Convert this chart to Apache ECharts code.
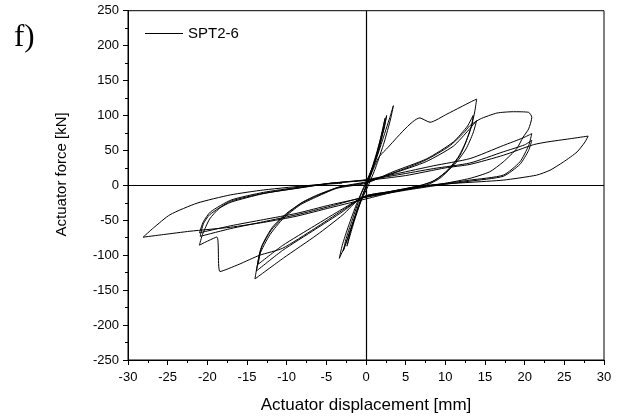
<!DOCTYPE html>
<html>
<head>
<meta charset="utf-8">
<script src="https://cdn.jsdelivr.net/npm/echarts@6/dist/echarts.min.js"></script>
<style>
html,body{margin:0;padding:0;background:#fff;}
#c{width:626px;height:419px;}
</style>
</head>
<body>
<div id="c"></div>
<script>
// Tick labels
var xTicks = [-30,-25,-20,-15,-10,-5,0,5,10,15,20,25,30];
var yTicks = [-250,-200,-150,-100,-50,0,50,100,150,200,250];
var seriesName = 'SPT2-6';

// Cycles at about ±3.5 mm  [displacement mm, force kN]
var loopsSmall = [
  [0,0],[1,28],[2,62],[3,97],[3.45,114],[3.1,95],[2.3,62],[1.2,25],[0.3,0],[-0.6,-22],[-1.6,-52],[-2.6,-85],[-3.36,-104.5],
  [-3.0,-86],[-2.2,-58],[-1.2,-27],[-0.3,-3],[0.6,20],[1.6,50],[2.6,100],
  [2.3,82],[1.5,50],[0.6,15],[-0.3,-12],[-1.3,-42],[-2.3,-75],[-2.86,-94],
  [-2.5,-76],[-1.6,-45],[-0.6,-12],[0.3,10],[1.3,42],[2.4,96],
  [2.1,78],[1.3,45],[0.4,12],[-0.5,-17],[-1.5,-52],[-2.4,-87],
  [-2.0,-68],[-1.0,-30],[0,-2],[0.8,20],[1.6,40]
];
// Cycles at about ±14 mm
var loops14 = [
  [2.4,50],[6.8,96.5],[8.07,90.3],[10.2,102],[11.85,111.6],[13.3,120],[13.95,123.4],
  [13.7,105],[13.3,85],[12.6,62],[11.85,43],[10.6,24],[9.3,10],[7.65,0.5],[5,-6],[2,-12],[-0.75,-19],
  [-2.9,-42],[-6.2,-71],[-10.4,-104],[-14,-134],
  [-13.4,-99],[-12.1,-70.5],[-10.4,-47],[-8.3,-28],[-6.6,-18.4],[-3.7,-4.3],[0,3],
  [3.4,19.4],[7.65,38],[11,62],[12.8,85],[13.5,100],
  [13.3,85],[12.5,60],[11.6,40],[10.3,22],[8.8,8],[7,0],[3,-9],[0,-16],[-1,-21],
  [-3,-38],[-6.4,-63],[-10.5,-93],[-13.8,-122.5],
  [-13.3,-92],[-12,-65],[-10.3,-44],[-8.2,-26],[-6.4,-16],[-3.5,-3],[0,4],
  [3.4,17],[7.6,34],[11,56],[13,80],[13.95,92.7],
  [13.5,75],[12.6,52],[11.4,33],[10,18],[8.3,5],[6.5,-1],[3,-9],[0,-15],
  [-3,-34],[-6.5,-58],[-10.5,-86],[-13.6,-113],
  [-13.1,-86],[-11.8,-60],[-10,-40],[-8,-24],[-6.2,-14],[-3.3,-2],[0,5]
];
// Cycles at about ±21 mm
var loops21 = [
  [3.5,18],[7.5,36],[10.5,56],[12.3,75],[13.1,85.5],[14.4,95],[16.5,103.5],[18.6,105.4],[20.5,104.5],[20.9,97.4],
  [20.5,80.8],[19.8,69],[19,52.5],[17.3,33.6],[15.6,19.4],[13.1,10],[10,3],[7,-2],[3,-9],[0,-15],
  [-3,-36],[-6.5,-62],[-10.5,-90],[-13.4,-100],[-16,-113],[-18.4,-123.4],[-18.8,-74],[-21,-85.6],
  [-20.6,-70],[-19.7,-48],[-18.5,-33],[-17,-24],[-13,-12],[-8.7,-4],[-4.5,3],[0,8],
  [4,17],[8.5,28],[13.1,38.3],[17.3,57],[19.8,68],[20.9,74],
  [20.5,57],[19.4,33.6],[17.3,14.6],[13.1,7.5],[9,1],[5,-6],[0,-16],
  [-4.5,-30],[-8.7,-42],[-12.9,-52],[-17.1,-62],[-20.9,-73],
  [-20.5,-55],[-19.7,-42],[-17.1,-23],[-12.9,-11.3],[-8.7,-4.3],[-4.5,2.8],[0,7.6],
  [4,15],[8.5,24],[13.1,32],[17.3,48],[20,58],[20.9,64.5],
  [20.5,50],[19.4,30],[17.3,13],[13.1,6],[9,0],[5,-7],[0,-17],
  [-4.5,-28],[-8.7,-40],[-12.9,-49],[-17.1,-58],[-21,-68],
  [-20.5,-52],[-19.6,-38],[-17,-21],[-12.9,-10],[-8.7,-3],[-4.5,3],[0,7]
];
// Cycle at about ±28 mm
var loop28 = [
  [5,14],[10,25],[13.1,30],[17.3,43],[21.1,58.2],[22.8,62],[25.7,66.7],[28,70.5],
  [27.6,62],[26.6,47.8],[24.9,33.6],[23.2,21.7],[21.5,14.6],[17.3,7.5],[13.1,4.3],[7.6,0],[4,-8],[0.5,-18],
  [-4.5,-32],[-8.7,-44],[-12.9,-53],[-17.1,-60],[-22.2,-65.7],[-25.5,-70.4],[-28.1,-74.2],
  [-26.8,-61],[-24.7,-42],[-21.3,-25.5],[-17.1,-13.7],[-12.9,-6.6],[-6.6,0.5],[-3,3]
];

var pathData = [].concat(loopsSmall, loops14, loops21, loop28);

var chart = echarts.init(document.getElementById('c'), null, {renderer:'canvas'});
var fontFam = '"Liberation Sans", Arial, sans-serif';
chart.setOption({
  animation:false,
  backgroundColor:'#fff',
  graphic:[{
    type:'text', left:14, top:22,
    style:{text:'f)', font:'31px "Liberation Serif", "Times New Roman", serif', fill:'#000'}
  }],
  legend:{
    show:true, left:140, top:21, orient:'horizontal',
    itemWidth:38, itemHeight:1, itemGap:4,
    icon:'rect',
    textStyle:{fontFamily:fontFam, fontSize:15, color:'#000', padding:[0,0,0,0]},
    data:[seriesName]
  },
  grid:{left:128, right:22, top:10.7, bottom:56, show:true, borderColor:'#000', borderWidth:1, backgroundColor:'transparent'},
  xAxis:{
    type:'value', min:-30, max:30, interval:5,
    name:'Actuator displacement [mm]', nameLocation:'middle', nameGap:37,
    nameTextStyle:{fontFamily:fontFam, fontSize:17, color:'#000'},
    axisLine:{show:true, onZero:false, lineStyle:{color:'#000', width:1}},
    axisTick:{show:true, inside:false, length:5, lineStyle:{color:'#000'}},
    minorTick:{show:true, splitNumber:2, length:3, lineStyle:{color:'#000'}},
    splitLine:{show:false},
    axisLabel:{fontFamily:fontFam, fontSize:13, color:'#000', margin:11,
      formatter:function(v){return xTicks.indexOf(v)>=0 ? String(v) : '';}}
  },
  yAxis:{
    type:'value', min:-250, max:250, interval:50,
    name:'Actuator force [kN]', nameLocation:'middle', nameGap:59, nameRotate:90,
    nameTextStyle:{fontFamily:fontFam, fontSize:15, color:'#000', padding:[0,0,0,22]},
    axisLine:{show:true, onZero:false, lineStyle:{color:'#000', width:1}},
    axisTick:{show:true, inside:false, length:5, lineStyle:{color:'#000'}},
    minorTick:{show:true, splitNumber:2, length:3, lineStyle:{color:'#000'}},
    splitLine:{show:false},
    axisLabel:{fontFamily:fontFam, fontSize:13, color:'#000', margin:9,
      formatter:function(v){return yTicks.indexOf(v)>=0 ? String(v) : '';}}
  },
  series:[{
    name:seriesName, type:'line', data:pathData, showSymbol:false, symbol:'none',
    smooth:0.2, clip:true,
    color:'#000',
    lineStyle:{color:'#000', width:1},
    itemStyle:{color:'#000'},
    markLine:{
      silent:true, symbol:['none','none'], animation:false,
      label:{show:false},
      lineStyle:{color:'#000', width:1.2, type:'solid'},
      data:[{xAxis:0},{yAxis:0}]
    }
  }]
});
</script>
</body>
</html>
